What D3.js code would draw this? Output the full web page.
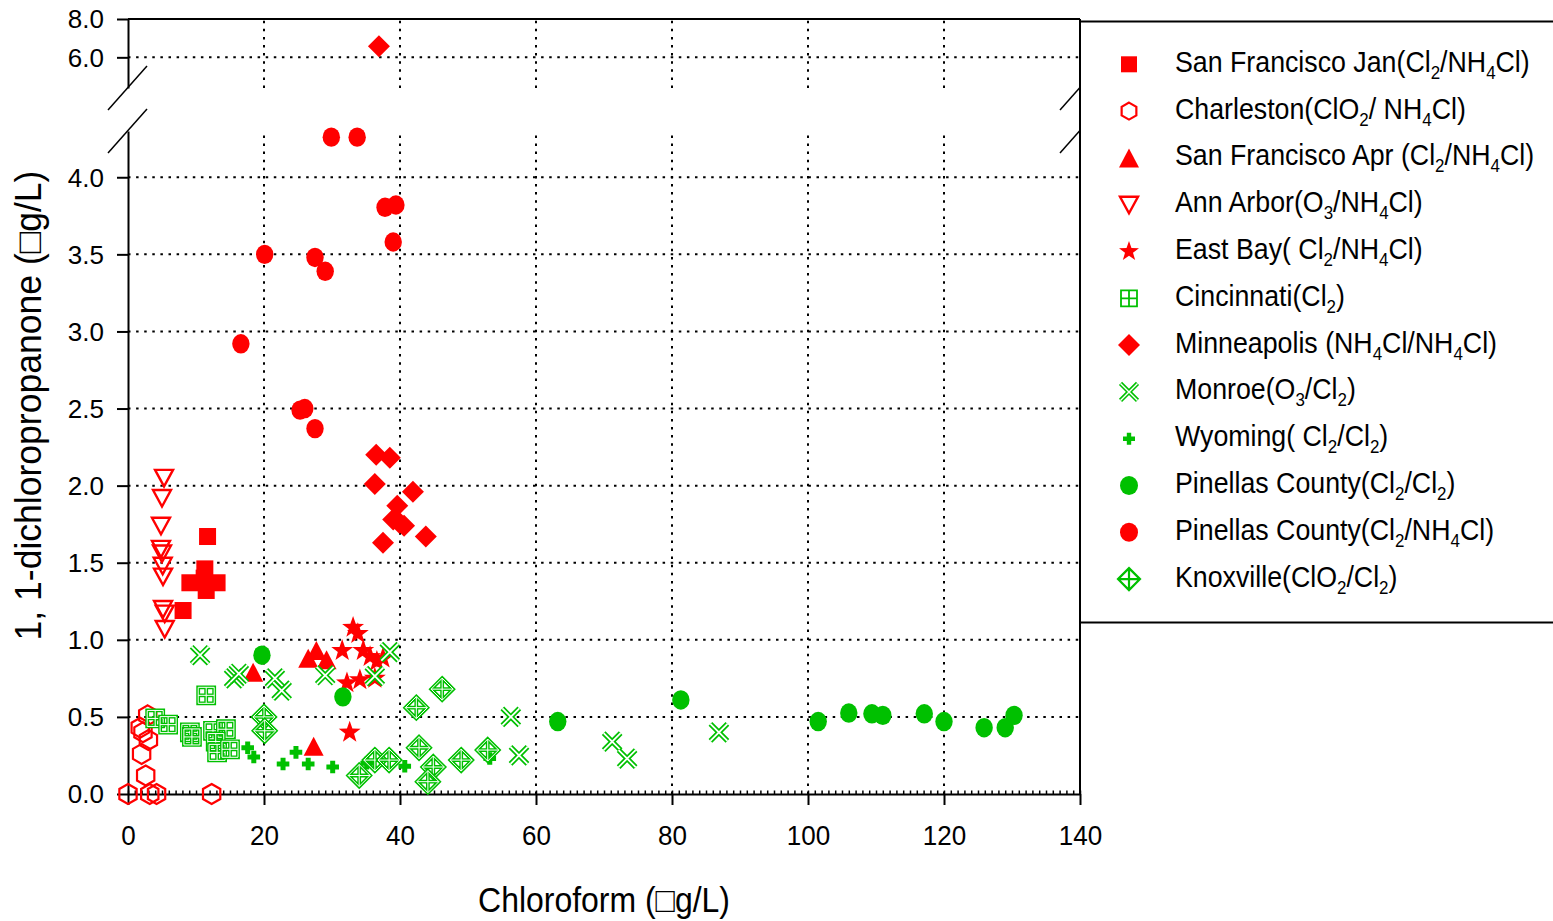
<!DOCTYPE html>
<html><head><meta charset="utf-8">
<script src="https://cdn.jsdelivr.net/npm/d3@7"></script>
<style>
body{margin:0;background:#fff;}
svg text{font-family:"Liberation Sans",Arial,Helvetica,sans-serif;fill:#000;white-space:pre;}
</style></head><body>
<svg id="chart" width="1553" height="921"></svg>
<script>
// ---------------- DATA ----------------
const xTicks = [0, 20, 40, 60, 80, 100, 120, 140];
const yTicksLow = [0, 0.5, 1.0, 1.5, 2.0, 2.5, 3.0, 3.5, 4.0];
const yTicksHigh = [6.0, 8.0];
const xTitle = "Chloroform (\u25A1g/L)";
const yTitle = "1, 1-dichloropropanone (\u25A1g/L)";

const legendLabels = [
  "San Francisco Jan(Cl_2/NH_4Cl)",
  "Charleston(ClO_2/ NH_4Cl)",
  "San Francisco Apr (Cl_2/NH_4Cl)",
  "Ann Arbor(O_3/NH_4Cl)",
  "East Bay( Cl_2/NH_4Cl)",
  "Cincinnati(Cl_2)",
  "Minneapolis (NH_4Cl/NH_4Cl)",
  "Monroe(O_3/Cl_2)",
  "Wyoming( Cl_2/Cl_2)",
  "Pinellas County(Cl_2/Cl_2)",
  "Pinellas County(Cl_2/NH_4Cl)",
  "Knoxville(ClO_2/Cl_2)"
];

const sfJanX = [11.7, 11.3, 9.1, 13.1, 11.5, 11.2, 8.1];
const sfJanY = [1.67, 1.46, 1.37, 1.37, 1.32, 1.40, 1.19];

const charlestonX = [0.0, 3.2, 4.2, 12.3, 2.9, 1.8, 2.2, 3.0, 2.0, 2.6];
const charlestonY = [0.0, 0.0, 0.0, 0.0, 0.51, 0.43, 0.40, 0.35, 0.26, 0.12];

const sfAprX = [18.4, 26.5, 27.7, 29.2, 27.3];
const sfAprY = [0.79, 0.88, 0.93, 0.87, 0.31];

const annArborX = [5.3, 5.0, 4.85, 4.85, 5.0, 5.1, 5.15, 5.15, 5.4, 5.4];
const annArborY = [2.05, 1.92, 1.74, 1.59, 1.56, 1.48, 1.41, 1.20, 1.17, 1.07];

const eastBayX = [33.1, 33.8, 31.5, 34.6, 35.6, 36.6, 37.5, 32.2, 34.1, 36.3, 32.6];
const eastBayY = [1.08, 1.04, 0.93, 0.93, 0.89, 0.86, 0.88, 0.72, 0.74, 0.75, 0.40];

const cincinnatiX = [11.5, 4.0, 5.9, 9.1, 9.4, 12.5, 14.4, 12.9, 13.1, 15.0];
const cincinnatiY = [0.64, 0.49, 0.45, 0.40, 0.37, 0.41, 0.42, 0.34, 0.27, 0.29];

const minneapolisX = [36.9, 36.5, 38.5, 36.3, 41.9, 39.6, 39.0, 40.6, 39.9, 37.5, 43.8];
const minneapolisY = [6.58, 2.20, 2.18, 2.01, 1.96, 1.87, 1.78, 1.74, 1.76, 1.63, 1.67];

const monroeX = [10.6, 15.6, 16.3, 21.6, 22.6, 29.0, 36.3, 38.5, 56.3, 57.5, 71.2, 73.4, 86.9];
const monroeY = [0.90, 0.75, 0.78, 0.75, 0.67, 0.77, 0.765, 0.92, 0.50, 0.25, 0.34, 0.23, 0.40];

const wyomingX = [17.6, 18.5, 22.8, 24.7, 26.5, 30.1, 35.1, 40.7, 53.2];
const wyomingY = [0.30, 0.24, 0.195, 0.27, 0.195, 0.175, 0.20, 0.18, 0.23];

const pinellasClX = [19.7, 31.6, 63.2, 81.3, 101.5, 106.0, 109.4, 111.0, 117.1, 120.0, 125.9, 129.0, 130.3];
const pinellasClY = [0.90, 0.63, 0.47, 0.61, 0.47, 0.525, 0.52, 0.51, 0.52, 0.47, 0.43, 0.43, 0.51];

const pinellasNhX = [29.9, 33.7, 37.8, 39.4, 39.0, 20.1, 27.5, 29.0, 16.6, 25.3, 26.0, 27.5];
const pinellasNhY = [4.26, 4.26, 3.805, 3.82, 3.58, 3.50, 3.48, 3.39, 2.92, 2.49, 2.50, 2.37];

const knoxvilleX = [20.0, 20.1, 34.0, 36.3, 38.4, 42.4, 42.8, 44.9, 44.1, 46.2, 49.0, 52.9];
const knoxvilleY = [0.50, 0.41, 0.12, 0.22, 0.22, 0.56, 0.30, 0.175, 0.08, 0.68, 0.22, 0.285];

const RED = "#ff0000", GREEN = "#00c000";

const series = [
  {x: sfJanX, y: sfJanY, shape: "square", color: RED},
  {x: charlestonX, y: charlestonY, shape: "hexagon", color: RED},
  {x: sfAprX, y: sfAprY, shape: "triUp", color: RED},
  {x: annArborX, y: annArborY, shape: "triDown", color: RED},
  {x: eastBayX, y: eastBayY, shape: "star", color: RED},
  {x: cincinnatiX, y: cincinnatiY, shape: "sqCross", color: GREEN},
  {x: minneapolisX, y: minneapolisY, shape: "diamond", color: RED},
  {x: monroeX, y: monroeY, shape: "xmark", color: GREEN},
  {x: wyomingX, y: wyomingY, shape: "plus", color: GREEN},
  {x: pinellasClX, y: pinellasClY, shape: "circle", color: GREEN},
  {x: pinellasNhX, y: pinellasNhY, shape: "circle", color: RED},
  {x: knoxvilleX, y: knoxvilleY, shape: "diamondCross", color: GREEN}
].map((s, i) => Object.assign(s, {label: legendLabels[i]}));

// ---------------- LAYOUT ----------------
const L = 128, R = 1080, T = 19, B = 794;
const lowTop = 131, highBottom = 88;
const svg = d3.select("#chart");

const x = d3.scaleLinear().domain([0, 140]).range([L, R]);
const yLow = d3.scaleLinear().domain([0, 4.3]).range([B, lowTop]);
const yHigh = d3.scaleLinear().domain([4.4, 8]).range([highBottom, T]);
const yPos = v => v > 5 ? yHigh(v) : yLow(v);

// ---------------- GRID ----------------
const grid = svg.append("g").attr("stroke", "#000").attr("stroke-width", 2)
  .attr("stroke-dasharray", "2.5 5.6").attr("fill", "none");
xTicks.filter(t => t > 0 && t < 140).forEach(t => {
  grid.append("line").attr("x1", x(t)).attr("x2", x(t)).attr("y1", B).attr("y2", lowTop);
  grid.append("line").attr("x1", x(t)).attr("x2", x(t)).attr("y1", highBottom).attr("y2", T);
});
yTicksLow.filter(t => t > 0).forEach(t => {
  grid.append("line").attr("x1", L).attr("x2", R).attr("y1", yLow(t)).attr("y2", yLow(t));
});
yTicksHigh.filter(t => t < 8).forEach(t => {
  grid.append("line").attr("x1", L).attr("x2", R).attr("y1", yHigh(t)).attr("y2", yHigh(t));
});

// ---------------- AXES ----------------
function styleAxis(g) {
  g.selectAll("path.domain").attr("stroke", "#000").attr("stroke-width", 2);
  g.selectAll(".tick line").attr("stroke", "#000").attr("stroke-width", 2);
  g.attr("font-family", null).attr("font-size", null);
}
const xMinor = svg.append("g").attr("transform", `translate(0,${B})`)
  .call(d3.axisBottom(x).tickValues(d3.range(0, 141, 1)).tickSize(-3.5).tickFormat(""));
xMinor.select("path.domain").remove();
xMinor.selectAll(".tick line").attr("stroke", "#000").attr("stroke-width", 1.5);

const xAxis = svg.append("g").attr("transform", `translate(0,${B})`)
  .call(d3.axisBottom(x).tickValues(xTicks).tickSize(11).tickSizeOuter(0).tickFormat(d3.format("d")));
styleAxis(xAxis);
xAxis.selectAll(".tick text").attr("dy", null).attr("y", 51)
  .attr("font-size", 28).attr("transform", "scale(0.93,1)");

const yAxisLow = svg.append("g").attr("transform", `translate(${L},0)`)
  .call(d3.axisLeft(yLow).tickValues(yTicksLow).tickSize(11).tickSizeOuter(0).tickFormat(d3.format(".1f")));
styleAxis(yAxisLow);
const yAxisHigh = svg.append("g").attr("transform", `translate(${L},0)`)
  .call(d3.axisLeft(yHigh).tickValues(yTicksHigh).tickSize(11).tickSizeOuter(0).tickFormat(d3.format(".1f")));
styleAxis(yAxisHigh);
[yAxisLow, yAxisHigh].forEach(g => g.selectAll(".tick text")
  .attr("x", -24).attr("dy", "0.34em").attr("font-size", 26));

svg.append("line").attr("x1", L).attr("x2", R).attr("y1", T).attr("y2", T)
  .attr("stroke", "#000").attr("stroke-width", 2);
svg.append("line").attr("x1", R).attr("x2", R).attr("y1", T).attr("y2", B)
  .attr("stroke", "#000").attr("stroke-width", 2);

[L, R].forEach(ax => {
  [highBottom, lowTop].forEach(yb => {
    svg.append("line").attr("x1", ax - 20).attr("y1", yb + 22).attr("x2", ax + 19).attr("y2", yb - 22)
      .attr("stroke", "#000").attr("stroke-width", 1.5);
  });
});

// ---------------- MARKERS ----------------
function starPath(Ro) {
  const ri = Ro * 0.4, pts = [];
  for (let k = 0; k < 10; k++) {
    const a = -Math.PI / 2 + k * Math.PI / 5, r = k % 2 ? ri : Ro;
    pts.push([r * Math.cos(a), r * Math.sin(a)]);
  }
  return "M" + pts.map(p => p.join(",")).join("L") + "Z";
}
function hexPath(Ro) {
  const pts = [];
  for (let k = 0; k < 6; k++) {
    const a = -Math.PI / 2 + k * Math.PI / 3;
    pts.push([Ro * Math.cos(a), Ro * Math.sin(a)]);
  }
  return "M" + pts.map(p => p.join(",")).join("L") + "Z";
}
function drawMarker(g, shape, color, legend) {
  const dbl = (d, w1, w2) => {
    g.append("path").attr("d", d).attr("fill", "none").attr("stroke", color).attr("stroke-width", w1);
    if (w2) g.append("path").attr("d", d).attr("fill", "none").attr("stroke", "#fff").attr("stroke-width", w2);
  };
  switch (shape) {
    case "square": {
      const h = legend ? 8 : 8.5;
      g.append("rect").attr("x", -h).attr("y", -h).attr("width", 2 * h).attr("height", 2 * h).attr("fill", color);
      break;
    }
    case "hexagon":
      g.append("path").attr("d", hexPath(legend ? 8.5 : 10)).attr("fill", "none")
        .attr("stroke", color).attr("stroke-width", 2.2);
      break;
    case "triUp":
      g.append("path").attr("d", "M0,-9.5L10,9.5L-10,9.5Z").attr("fill", color);
      break;
    case "triDown":
      g.append("path").attr("d", "M-9,-8L9,-8L0,8.5Z").attr("fill", "none")
        .attr("stroke", color).attr("stroke-width", 2.4);
      break;
    case "star":
      g.append("path").attr("d", starPath(legend ? 10.5 : 11.5)).attr("fill", color);
      break;
    case "diamond": {
      const h = legend ? 11 : 11;
      g.append("path").attr("d", `M0,${-h}L${h},0L0,${h}L${-h},0Z`).attr("fill", color);
      break;
    }
    case "circle":
      g.append("ellipse").attr("rx", legend ? 9 : 8.7).attr("ry", legend ? 9.5 : 9.7).attr("fill", color);
      break;
    case "plus": {
      const a = legend ? 6 : 6.3, w = legend ? 2.2 : 2.5;
      g.append("path").attr("d",
        `M${-w},${-a}H${w}V${-w}H${a}V${w}H${w}V${a}H${-w}V${w}H${-a}V${-w}H${-w}Z`).attr("fill", color);
      break;
    }
    case "sqCross": {
      const h = legend ? 8 : 8;
      const d = `M${-h},${-h}H${h}V${h}H${-h}Z M0,${-h}V${h} M${-h},0H${h}`;
      if (legend) dbl(d, 1.8); else dbl(d, 3.8, 1.0);
      break;
    }
    case "xmark": {
      const h = 8.5;
      const d = `M${-h},${-h}L${h},${h}M${-h},${h}L${h},${-h}`;
      dbl(d, legend ? 4.4 : 5.2, legend ? 1.4 : 1.8);
      break;
    }
    case "diamondCross": {
      const h = 11;
      const d = `M0,${-h}L${h},0L0,${h}L${-h},0Z M0,${-h}V${h} M${-h},0H${h}`;
      if (legend) dbl(d, 2.2); else dbl(d, 3.8, 1.0);
      break;
    }
  }
}

const plot = svg.append("g");
series.forEach(s => {
  const sg = plot.append("g");
  s.x.forEach((xv, i) => {
    const g = sg.append("g").attr("transform", `translate(${x(xv)},${yPos(s.y[i])})`);
    drawMarker(g, s.shape, s.color, false);
  });
});

// ---------------- LEGEND ----------------
svg.append("rect").attr("x", R).attr("y", 21.5).attr("width", 560).attr("height", 601)
  .attr("fill", "#fff").attr("stroke", "#000").attr("stroke-width", 2);

function addRich(textSel, str, subSize, subDy) {
  const parts = str.split(/(_\d)/).filter(p => p.length);
  let prevSub = false;
  parts.forEach(p => {
    if (p[0] === "_") {
      textSel.append("tspan").attr("font-size", subSize).attr("dy", subDy).text(p.slice(1));
      prevSub = true;
    } else {
      const t = textSel.append("tspan").text(p);
      if (prevSub) t.attr("dy", -subDy);
      prevSub = false;
    }
  });
}

const legY0 = 64.3, legStep = 46.8, legSymX = 1129, legTextX = 1175;
const legTexts = [];
series.forEach((s, i) => {
  const cy = legY0 + i * legStep;
  const g = svg.append("g").attr("transform", `translate(${legSymX},${cy})`);
  drawMarker(g, s.shape, s.color, true);
  const tg = svg.append("g").attr("transform", `translate(${legTextX},${cy + 7.5})`);
  const t = tg.append("text").attr("font-size", 30);
  addRich(t, s.label, 19, 7);
  legTexts.push(t);
});
const w0 = legTexts[0].node().getBBox().width;
const legSx = 355 / w0;
legTexts.forEach(t => t.attr("transform", `scale(${legSx},1)`));

// ---------------- TITLES ----------------
const xt = svg.append("g").attr("transform", `translate(${(L + R) / 2},912)`)
  .append("text").attr("text-anchor", "middle").attr("font-size", 35).text(xTitle);
xt.attr("transform", `scale(${252 / xt.node().getBBox().width},1)`);

const yt = svg.append("g").attr("transform", `translate(41,${(T + B) / 2 - 1}) rotate(-90)`)
  .append("text").attr("text-anchor", "middle").attr("font-size", 36).text(yTitle);
yt.attr("transform", `scale(${470 / yt.node().getBBox().width},1)`);
</script>
</body></html>
